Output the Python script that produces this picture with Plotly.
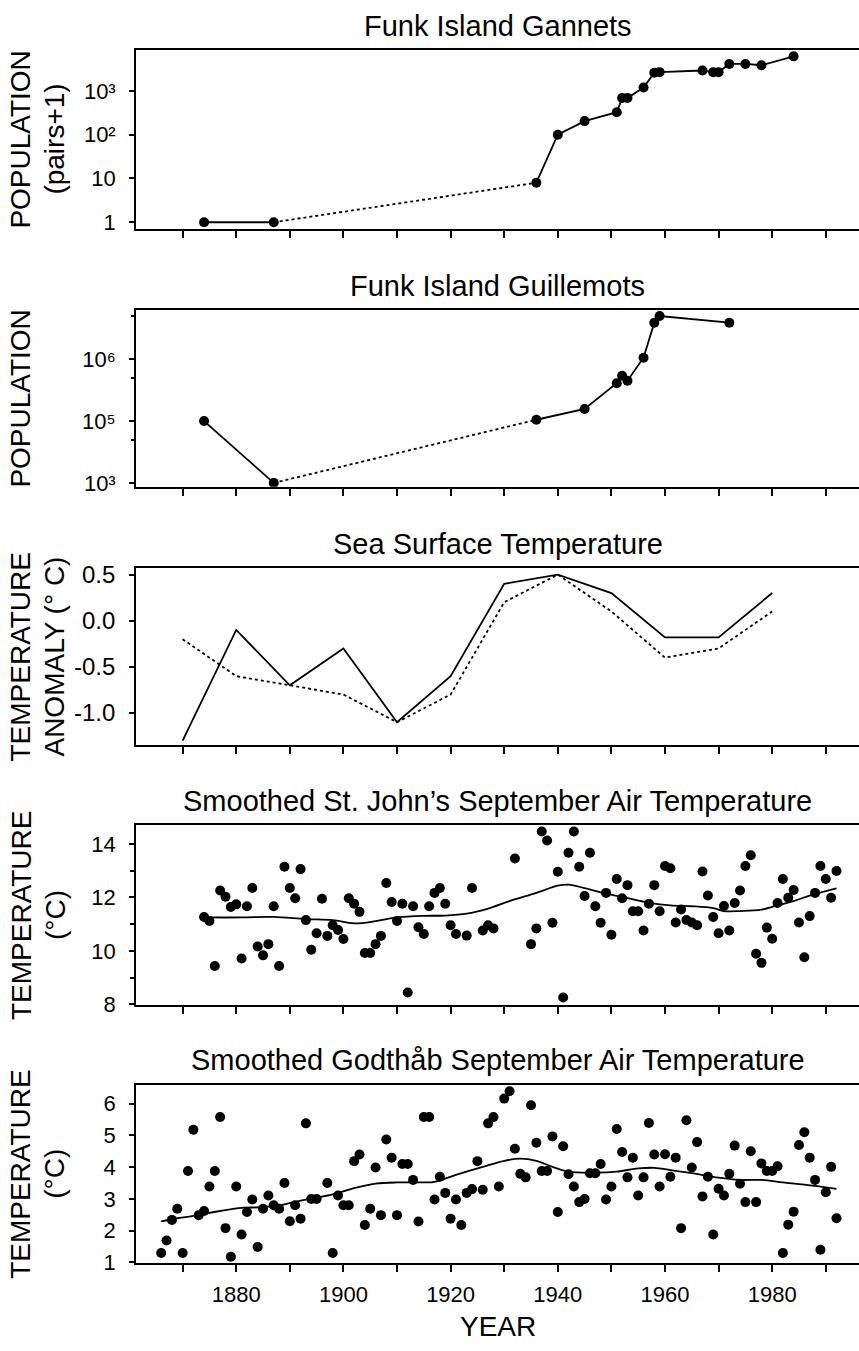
import plotly.graph_objects as go
import numpy as np

# ---------------- data ----------------
gannet_year = [1874, 1887, 1936, 1940, 1945, 1951, 1952, 1953, 1956, 1958, 1959,
               1967, 1969, 1970, 1972, 1975, 1978, 1984]
gannet_pop = [1, 1, 8, 100, 204, 326, 685, 685, 1190, 2590, 2680,
              2920, 2680, 2680, 4130, 4130, 3850, 6150]   # pairs + 1

guill_year = [1874, 1887, 1936, 1945, 1951, 1952, 1953, 1956, 1958, 1959, 1972]
guill_pop = [1e5, 1e3, 1.05e5, 1.57e5, 4.1e5, 5.4e5, 4.5e5, 1.06e6, 3.9e6, 5.0e6, 3.9e6]

sst_year = [1870, 1880, 1890, 1900, 1910, 1920, 1930, 1940, 1950, 1960, 1970, 1980]
sst_solid = [-1.3, -0.1, -0.7, -0.3, -1.1, -0.6, 0.4, 0.5, 0.3, -0.18, -0.18, 0.3]
sst_dotted = [-0.2, -0.6, -0.7, -0.8, -1.1, -0.8, 0.2, 0.5, 0.1, -0.4, -0.3, 0.1]

stj_year = [1874, 1875, 1876, 1877, 1878, 1879, 1880, 1881, 1882, 1883, 1884, 1885,
            1886, 1887, 1888, 1889, 1890, 1891, 1892, 1893, 1894, 1895, 1896, 1897,
            1898, 1899, 1900, 1901, 1902, 1903, 1904, 1905, 1906, 1907, 1908, 1909,
            1910, 1911, 1912, 1913, 1914, 1915, 1916, 1917, 1918, 1919, 1920, 1921,
            1923, 1924, 1926, 1927, 1928, 1932, 1935, 1936, 1937, 1938, 1939, 1940,
            1941, 1942, 1943, 1944, 1945, 1946, 1947, 1948, 1949, 1950, 1951, 1952,
            1953, 1954, 1955, 1956, 1957, 1958, 1959, 1960, 1961, 1962, 1963, 1964,
            1965, 1966, 1967, 1968, 1969, 1970, 1971, 1972, 1973, 1974, 1975, 1976,
            1977, 1978, 1979, 1980, 1981, 1982, 1983, 1984, 1985, 1986, 1987, 1988,
            1989, 1990, 1991, 1992]
stj_temp = [11.27, 11.12, 9.43, 12.26, 12.03, 11.64, 11.74, 9.71, 11.67, 12.35, 10.16, 9.83,
            10.25, 11.67, 9.43, 13.15, 12.35, 11.97, 13.06, 11.15, 10.04, 10.66, 11.95, 10.56,
            10.96, 10.78, 10.44, 11.97, 11.76, 11.46, 9.92, 9.92, 10.25, 10.56, 12.54, 11.83,
            11.12, 11.76, 8.44, 11.67, 10.88, 10.63, 11.67, 12.17, 12.35, 11.76, 10.96, 10.63,
            10.57, 12.35, 10.76, 10.96, 10.84, 13.46, 10.25, 10.84, 14.47, 14.13, 11.05, 12.96,
            8.25, 13.67, 14.47, 13.15, 12.05, 13.67, 11.67, 11.05, 12.17, 10.60, 12.69, 11.97,
            12.46, 11.48, 11.48, 10.76, 11.76, 12.46, 11.48, 13.18, 13.09, 11.06, 11.55, 11.15,
            11.06, 10.96, 12.97, 12.07, 11.27, 10.66, 11.68, 10.76, 11.79, 12.26, 13.18, 13.58,
            9.89, 9.55, 10.87, 10.45, 11.79, 12.69, 11.99, 12.28, 11.06, 9.76, 11.30, 12.17,
            13.18, 12.69, 11.99, 12.99]
stj_smooth_year = [1874, 1881, 1887, 1893, 1898, 1902, 1906, 1910, 1915, 1919, 1923, 1927,
                   1931, 1936, 1940, 1942, 1945, 1948, 1953, 1957, 1961, 1965, 1969, 1971,
                   1974, 1978, 1981, 1984, 1987, 1992]
stj_smooth = [11.25, 11.25, 11.27, 11.19, 11.15, 11.03, 11.11, 11.25, 11.31, 11.32, 11.39, 11.58,
              11.86, 12.17, 12.44, 12.48, 12.35, 12.19, 11.97, 11.80, 11.70, 11.67, 11.60, 11.49,
              11.49, 11.54, 11.70, 11.86, 12.07, 12.34]

god_year = [1866, 1867, 1868, 1869, 1870, 1871, 1872, 1873, 1874, 1875, 1876, 1877,
            1878, 1879, 1880, 1881, 1882, 1883, 1884, 1885, 1886, 1887, 1888, 1889,
            1890, 1891, 1892, 1893, 1894, 1895, 1897, 1898, 1899, 1900, 1901, 1902,
            1903, 1904, 1905, 1906, 1907, 1908, 1909, 1910, 1911, 1912, 1913, 1914,
            1915, 1916, 1917, 1918, 1919, 1920, 1921, 1922, 1923, 1924, 1925, 1926,
            1927, 1928, 1929, 1930, 1931, 1932, 1933, 1934, 1935, 1936, 1937, 1938,
            1939, 1940, 1941, 1942, 1943, 1944, 1945, 1946, 1947, 1948, 1949, 1950,
            1951, 1952, 1953, 1954, 1955, 1956, 1957, 1958, 1959, 1960, 1961, 1962,
            1963, 1964, 1965, 1966, 1967, 1968, 1969, 1970, 1971, 1972, 1973, 1974,
            1975, 1976, 1977, 1978, 1979, 1980, 1981, 1982, 1983, 1984, 1985, 1986,
            1987, 1988, 1989, 1990, 1991, 1992]
god_temp = [1.30, 1.69, 2.34, 2.69, 1.30, 3.88, 5.18, 2.49, 2.62, 3.39, 3.88, 5.58,
            2.08, 1.18, 3.39, 1.88, 2.59, 2.98, 1.49, 2.69, 3.11, 2.80, 2.69, 3.50,
            2.30, 2.80, 2.38, 5.38, 3.00, 3.00, 3.50, 1.30, 3.11, 2.80, 2.80, 4.19,
            4.40, 2.18, 2.69, 3.99, 2.49, 4.87, 4.30, 2.49, 4.10, 4.10, 3.60, 2.29,
            5.58, 5.58, 2.98, 3.70, 3.19, 2.38, 2.98, 2.18, 3.19, 3.31, 4.19, 3.29,
            5.38, 5.58, 3.39, 6.16, 6.39, 4.58, 3.79, 3.68, 5.95, 4.77, 3.88, 3.88,
            4.97, 2.59, 4.66, 3.78, 3.39, 2.90, 3.00, 3.81, 3.81, 4.10, 2.98, 3.39,
            5.20, 4.48, 3.68, 4.30, 3.11, 3.68, 5.39, 4.40, 3.39, 4.41, 3.70, 4.30,
            2.08, 5.48, 3.99, 4.79, 3.08, 3.70, 1.88, 3.32, 3.11, 3.79, 4.68, 3.48,
            2.90, 4.50, 2.90, 4.12, 3.88, 3.88, 4.03, 1.30, 2.19, 2.60, 4.70, 5.10,
            4.30, 3.60, 1.40, 3.21, 4.01, 2.39]
god_smooth_year = [1866, 1868, 1872, 1877, 1881, 1885, 1889, 1893, 1898, 1902, 1906, 1910,
                   1915, 1917, 1921, 1926, 1930, 1933, 1936, 1939, 1942, 1947, 1951, 1955,
                   1958, 1961, 1965, 1970, 1974, 1978, 1982, 1986, 1992]
god_smooth = [2.29, 2.36, 2.47, 2.62, 2.72, 2.74, 2.83, 2.98, 3.14, 3.34, 3.48, 3.52,
              3.52, 3.54, 3.76, 4.01, 4.20, 4.27, 4.20, 4.01, 3.86, 3.83, 3.86, 3.96,
              3.98, 3.91, 3.81, 3.67, 3.60, 3.60, 3.52, 3.45, 3.32]

year_ticks = list(range(1870, 2000, 10))
year_label_ticks = [1880, 1900, 1920, 1940, 1960, 1980]

gannet_tickvals = [1, 10, 100, 1000]
gannet_ticktext = ["1", "10", "10\u00b2", "10\u00b3"]
guill_tickvals = [1e3, 1e5, 1e6]
guill_ticktext = ["10\u00b3", "10\u2075", "10\u2076"]
sst_tickvals = [-1, -0.5, 0, 0.5]
sst_ticktext = ["-1.0", "-0.5", "0.0", "0.5"]

titles = ["Funk Island Gannets", "Funk Island Guillemots", "Sea Surface Temperature",
          "Smoothed St. John\u2019s September Air Temperature",
          "Smoothed Godth\u00e5b September Air Temperature"]
ylabels = [["POPULATION", "(pairs+1)"], ["POPULATION"], ["TEMPERATURE", "ANOMALY (\u00b0 C)"],
           ["TEMPERATURE", "(\u00b0C)"], ["TEMPERATURE", "(\u00b0C)"]]

# --------------- layout helpers ---------------
FONT = "Liberation Sans, Arial, Helvetica, DejaVu Sans, sans-serif"
W, H = 859, 1351
L = 136
panels = [(44, 225), (307.7, 486.7), (569.3, 748.3), (830, 1012), (1093, 1274)]
XR = [1861.3, 1996.2]
LW = 1.8


def dom(t, b):
    return [1 - b / H, 1 - t / H]


def guill_pos(v):
    # axis is broken between 10^3 and 10^5 (lower part compressed)
    lv = np.log10(np.asarray(v, dtype=float))
    return np.where(lv >= 5, lv, 5 - (5 - lv) / 2.0)


fig = go.Figure()
BLACK = "black"
mk = dict(color=BLACK, size=10)


def seg(xs, ys, i0, i1, dash, ax, markers=True):
    fig.add_trace(go.Scatter(x=xs[i0:i1], y=ys[i0:i1],
                             mode="lines+markers" if markers else "lines",
                             line=dict(color=BLACK, width=LW, dash=dash),
                             marker=mk, xaxis="x" + ax, yaxis="y" + ax,
                             showlegend=False, hoverinfo="x+y"))


# panel 1
seg(gannet_year, gannet_pop, 1, 3, "dot", "", markers=False)
seg(gannet_year, gannet_pop, 0, 2, "solid", "")
seg(gannet_year, gannet_pop, 2, None, "solid", "")

# panel 2
gp = list(guill_pos(guill_pop))
seg(guill_year, gp, 1, 3, "dot", "2", markers=False)
seg(guill_year, gp, 0, 2, "solid", "2")
seg(guill_year, gp, 2, None, "solid", "2")

# panel 3
fig.add_trace(go.Scatter(x=sst_year, y=sst_solid, mode="lines",
                         line=dict(color=BLACK, width=LW), xaxis="x3", yaxis="y3",
                         showlegend=False))
fig.add_trace(go.Scatter(x=sst_year, y=sst_dotted, mode="lines",
                         line=dict(color=BLACK, width=LW, dash="dot"), xaxis="x3", yaxis="y3",
                         showlegend=False))

# panel 4
fig.add_trace(go.Scatter(x=stj_year, y=stj_temp, mode="markers", marker=mk,
                         xaxis="x4", yaxis="y4", showlegend=False))
fig.add_trace(go.Scatter(x=stj_smooth_year, y=stj_smooth, mode="lines", line_shape="spline",
                         line=dict(color=BLACK, width=LW), xaxis="x4", yaxis="y4",
                         showlegend=False))

# panel 5
fig.add_trace(go.Scatter(x=god_year, y=god_temp, mode="markers", marker=mk,
                         xaxis="x5", yaxis="y5", showlegend=False))
fig.add_trace(go.Scatter(x=god_smooth_year, y=god_smooth, mode="lines", line_shape="spline",
                         line=dict(color=BLACK, width=LW), xaxis="x5", yaxis="y5",
                         showlegend=False))

tickfont = dict(family=FONT, size=22, color=BLACK)
layout = dict(width=W, height=H, autosize=False,
              margin=dict(l=L, r=0, t=0, b=0, pad=0),
              paper_bgcolor="white", plot_bgcolor="white",
              font=dict(family=FONT, color=BLACK), showlegend=False)

yspecs = [
    dict(type="log", range=[-0.15, 3.925], tickvals=gannet_tickvals, ticktext=gannet_ticktext),
    dict(type="linear", range=[3.936, 6.79], tickvals=list(guill_pos(guill_tickvals)),
         ticktext=guill_ticktext,
         minor=dict(tickvals=[4.7, 5.7, 6.7], ticklen=3, tickcolor=BLACK, ticks="outside")),
    dict(type="linear", range=[-1.344, 0.568], tickvals=sst_tickvals,
         ticktext=sst_ticktext, tickfont=dict(family=FONT, size=24, color=BLACK)),
    dict(type="linear", range=[7.98, 14.7], tickvals=[8, 10, 12, 14],
         minor=dict(dtick=1, tick0=8, ticklen=4, tickcolor=BLACK, ticks="outside")),
    dict(type="linear", range=[0.98, 6.6], tickvals=[1, 2, 3, 4, 5, 6]),
]

annotations = []
for i, (t, b) in enumerate(panels):
    sfx = "" if i == 0 else str(i + 1)
    xa = dict(domain=[0, 1], range=XR, anchor="y" + sfx,
              showline=True, linecolor=BLACK, linewidth=LW, mirror=True,
              ticks="outside", ticklen=7, tickwidth=1.5, tickcolor=BLACK,
              tickfont=tickfont, showgrid=False, zeroline=False, fixedrange=True)
    if i == 4:
        xa.update(tickvals=year_label_ticks, showticklabels=True, ticklabelstandoff=4,
                  minor=dict(tickvals=year_ticks, ticklen=7, tickwidth=1.5,
                             tickcolor=BLACK, ticks="outside"))
    else:
        xa.update(tickvals=year_ticks, showticklabels=False)
    layout["xaxis" + sfx] = xa
    ys = dict(domain=dom(t, b), anchor="x" + sfx, showline=True, linecolor=BLACK,
              linewidth=LW, mirror=False, ticks="outside", ticklen=5, tickwidth=1.5,
              tickcolor=BLACK, tickfont=tickfont, showgrid=False, zeroline=False,
              ticklabelstandoff=9, fixedrange=True)
    ys.update(yspecs[i])
    layout["yaxis" + sfx] = ys
    annotations.append(dict(text=titles[i], xref="paper", yref="paper", x=0.5,
                            y=1 - (t - 25) / H, xanchor="center", yanchor="middle",
                            showarrow=False, font=dict(family=FONT, size=29, color=BLACK)))
    cy = 1 - ((t + b) / 2) / H
    for j, txt in enumerate(ylabels[i]):
        px = 21 if j == 0 else 55
        annotations.append(dict(text=txt, xref="paper", yref="paper",
                                x=(px - L) / (W - L), y=cy, xanchor="center", yanchor="middle",
                                textangle=-90, showarrow=False,
                                font=dict(family=FONT, size=28, color=BLACK)))

annotations.append(dict(text="YEAR", xref="paper", yref="paper", x=0.5, y=1 - 1338 / H,
                        xanchor="center", yanchor="middle", showarrow=False,
                        font=dict(family=FONT, size=28, color=BLACK)))
layout["annotations"] = annotations
fig.update_layout(**layout)
fig.write_html("out.html")
